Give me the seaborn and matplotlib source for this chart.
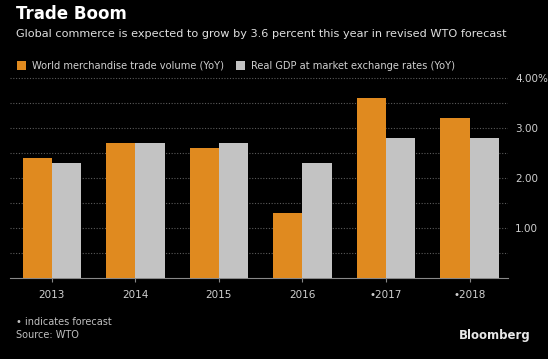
import pandas as pd
import seaborn as sns
import matplotlib.pyplot as plt
from matplotlib.patches import Patch

years = ['2013', '2014', '2015', '2016', '•2017', '•2018']
trade_volume = [2.4, 2.7, 2.6, 1.3, 3.6, 3.2]
real_gdp = [2.3, 2.7, 2.7, 2.3, 2.8, 2.8]
series_names = ['World merchandise trade volume (YoY)', 'Real GDP at market exchange rates (YoY)']
colors = ['#e08a1f', '#c3c3c3']

df = pd.DataFrame({'Year': years * 2,
                   'Value': trade_volume + real_gdp,
                   'Series': [series_names[0]] * 6 + [series_names[1]] * 6})

fig = plt.figure(figsize=(5.48, 3.59), dpi=100, facecolor='black')
ax = fig.add_axes([10 / 548, 1 - 278 / 359, (508 - 10) / 548, (278 - 74) / 359])
ax.set_facecolor('black')

sns.barplot(data=df, x='Year', y='Value', hue='Series', palette=colors,
            width=0.7, saturation=1, ax=ax, legend=False, zorder=3)

ax.set_xlim(-0.5, 5.46)
ax.set_ylim(0, 4.08)
ax.set_yticks([1, 2, 3, 4])
ax.set_yticklabels(['1.00', '2.00', '3.00', '4.00%'])
ax.set_yticks([0.5, 1.5, 2.5, 3.5], minor=True)
ax.yaxis.tick_right()
ax.grid(axis='y', which='both', color='#5a5a5a', linestyle=(0, (1, 1.5)), linewidth=0.8, zorder=0)
ax.tick_params(axis='y', which='both', length=0, colors='#d0d0d0', labelsize=7.5, pad=5)
ax.tick_params(axis='x', length=3, color='#888888', colors='#d0d0d0', labelsize=7.5, pad=6)
ax.set_xlabel('')
ax.set_ylabel('')
for side in ['top', 'right', 'left']:
    ax.spines[side].set_visible(False)
ax.spines['bottom'].set_color('#888888')

fig.text(16 / 548, 1 - 14 / 359, 'Trade Boom', color='white', fontsize=12,
         fontweight='bold', va='center')
fig.text(16 / 548, 1 - 34 / 359, 'Global commerce is expected to grow by 3.6 percent this year in revised WTO forecast',
         color='#e0e0e0', fontsize=8.1, va='center')
handles = [Patch(facecolor=c, edgecolor='none') for c in colors]
fig.legend(handles, series_names, loc='center left', bbox_to_anchor=(8 / 548, 1 - 66 / 359),
           ncol=2, frameon=False, fontsize=7.15, labelcolor='#d0d0d0', handlelength=0.9,
           handleheight=0.9, handletextpad=0.6, columnspacing=1.2)
fig.text(16 / 548, 1 - 322 / 359, '• indicates forecast', color='#c0c0c0', fontsize=7, va='center')
fig.text(16 / 548, 1 - 335 / 359, 'Source: WTO', color='#c0c0c0', fontsize=7, va='center')
fig.text(531 / 548, 1 - 336 / 359, 'Bloomberg', color='#e8e8e8', fontsize=8.5,
         fontweight='bold', ha='right', va='center')

fig.savefig('out.png', dpi=100, facecolor='black')
